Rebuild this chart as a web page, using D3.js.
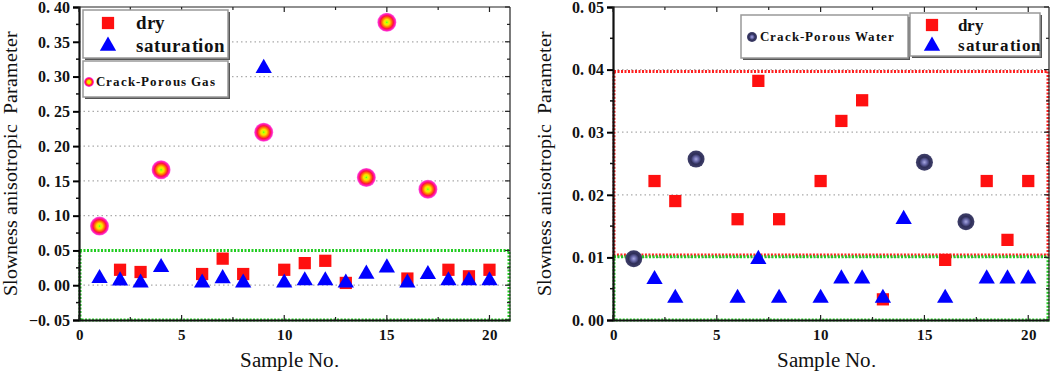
<!DOCTYPE html>
<html>
<head>
<meta charset="utf-8">
<script src="https://cdn.jsdelivr.net/npm/d3@7"></script>
<style>
@font-face { font-family: 'ChartSerif'; font-weight: normal; src: local('Liberation Serif'), local('LiberationSerif'); }
@font-face { font-family: 'ChartSerif'; font-weight: bold; src: local('Liberation Serif Bold'), local('LiberationSerif-Bold'); }
body { margin: 0; background: #fff; }
</style>
</head>
<body>
<script>
// dry samples (same in both panels)
var drySamples = [2, 3, 6, 7, 8, 10, 11, 12, 13, 16, 18, 19, 20];
var dryValues  = [0.0222, 0.019, 0.0161, 0.0382, 0.0161, 0.0222, 0.0318, 0.0351, 0.0033, 0.0096, 0.0222, 0.0128, 0.0222];

// saturation, left panel
var satLeftSamples = [1, 2, 3, 4, 6, 7, 8, 9, 10, 11, 12, 13, 14, 15, 16, 17, 18, 19, 20];
var satLeftValues  = [0.0098, 0.0065, 0.0035, 0.0257, 0.0035, 0.0097, 0.0035, 0.312, 0.0035, 0.0066, 0.0066, 0.0035, 0.0161, 0.0252, 0.0035, 0.0157, 0.0066, 0.0066, 0.0066];

// saturation, right panel
var satRightSamples = [2, 3, 6, 7, 8, 10, 11, 12, 13, 14, 16, 18, 19, 20];
var satRightValues  = [0.0065, 0.0035, 0.0035, 0.0097, 0.0035, 0.0035, 0.0066, 0.0066, 0.0035, 0.0161, 0.0035, 0.0066, 0.0066, 0.0066];

// crack-porous gas / water
var gasSamples = [1, 4, 9, 14, 15, 17];
var gasValues  = [0.085, 0.166, 0.22, 0.155, 0.378, 0.138];
var waterSamples = [1, 4, 15, 17];
var waterValues  = [0.0098, 0.0257, 0.0252, 0.0157];

var xTicks = [0, 5, 10, 15, 20];
var leftYTicks = [-0.05, 0, 0.05, 0.10, 0.15, 0.20, 0.25, 0.30, 0.35, 0.40];
var rightYTicks = [0, 0.01, 0.02, 0.03, 0.04, 0.05];

var yTitle = "Slowness anisotropic\u00a0 Parameter";
var xTitle = "Sample No.";

var FONT = "'ChartSerif', 'Liberation Serif'";

var svg = d3.select("body").append("svg")
  .attr("width", 1052).attr("height", 374)
  .style("font-family", FONT);

var defs = svg.append("defs");
var gg = defs.append("radialGradient").attr("id", "gasGrad");
[[0, "#33ff33"], [0.12, "#ccff00"], [0.3, "#ffe000"], [0.5, "#ff7a00"], [0.68, "#ff1040"], [0.88, "#ff20c0"], [1, "#ff70e0"]]
  .forEach(function(s) { gg.append("stop").attr("offset", s[0]).attr("stop-color", s[1]); });
var wg = defs.append("radialGradient").attr("id", "waterGrad");
[[0, "#a8a8e0"], [0.3, "#6868a8"], [0.6, "#2e2e58"], [1, "#40406a"]]
  .forEach(function(s) { wg.append("stop").attr("offset", s[0]).attr("stop-color", s[1]); });

function fmt(v) {
  var s = d3.format(".2f")(Math.abs(v)).replace(".", ".\u00a0");
  return (v < 0 ? "\u2212" : "") + s;
}

function txt(g, x, y, size, bold, str) {
  return g.append("text").attr("x", x).attr("y", y).attr("font-size", size)
    .attr("font-weight", bold ? "bold" : "normal").attr("fill", "#111")
    .style("font-family", FONT).text(str);
}

function panel(opt) {
  var x = d3.scaleLinear().domain([0, 21]).range([opt.left, opt.right]);
  var y = d3.scaleLinear().domain(opt.yDomain).range([opt.bottom, opt.top]);
  var g = svg.append("g");

  // grid
  g.selectAll(".grid").data(opt.grid).enter().append("line")
    .attr("x1", opt.left).attr("x2", opt.right)
    .attr("y1", function(d) { return y(d); }).attr("y2", function(d) { return y(d); })
    .attr("stroke", "#aaa").attr("stroke-width", 1.2).attr("stroke-dasharray", "1.5,3");

  // highlight boxes
  opt.boxes.forEach(function(b) {
    g.append("rect")
      .attr("x", x(0) + 1).attr("y", y(b.hi))
      .attr("width", x(21) - x(0) - 2).attr("height", y(b.lo) - y(b.hi))
      .attr("fill", "none").attr("stroke", b.color).attr("stroke-width", 3)
      .attr("stroke-dasharray", "2,1.5");
  });

  // frame
  g.append("line").attr("x1", opt.left).attr("x2", opt.right).attr("y1", opt.top).attr("y2", opt.top)
    .attr("stroke", "#222").attr("stroke-width", 1.2);
  g.append("line").attr("x1", opt.right).attr("x2", opt.right).attr("y1", opt.top).attr("y2", opt.bottom)
    .attr("stroke", "#222").attr("stroke-width", 1.2);

  // axes
  var xa = g.append("g").attr("transform", "translate(0," + opt.bottom + ")")
    .call(d3.axisBottom(x).tickValues(xTicks).tickSize(0).tickPadding(9).tickFormat(d3.format("d")));
  xa.attr("font-family", null).attr("font-size", 15).attr("font-weight", "bold");
  xa.select(".domain").attr("stroke", "#111").attr("stroke-width", 2.2);
  xa.selectAll("text").attr("fill", "#111").style("font-family", FONT);
  var ya = g.append("g").attr("transform", "translate(" + opt.left + ",0)")
    .call(d3.axisLeft(y).tickValues(opt.yTicks).tickSize(6).tickPadding(3).tickFormat(fmt));
  ya.attr("font-family", null).attr("font-size", 15.5).attr("font-weight", "bold");
  ya.select(".domain").attr("stroke", "#111").attr("stroke-width", 2.2);
  ya.selectAll("line").attr("stroke-width", 2);
  ya.selectAll("text").attr("fill", "#111").attr("dy", "0.34em").style("font-family", FONT);

  // minor / inner ticks
  var xt = d3.range(0, 21, 2.5);
  g.selectAll(".tt").data(xt).enter().append("line")
    .attr("x1", function(d) { return x(d); }).attr("x2", function(d) { return x(d); })
    .attr("y1", opt.top).attr("y2", function(d) { return opt.top + (d % 5 === 0 ? 5 : 3); })
    .attr("stroke", "#222").attr("stroke-width", 1.2);
  g.selectAll(".bt").data(xt).enter().append("line")
    .attr("x1", function(d) { return x(d); }).attr("x2", function(d) { return x(d); })
    .attr("y1", opt.bottom).attr("y2", function(d) { return opt.bottom - (d % 5 === 0 ? 5 : 3); })
    .attr("stroke", "#222").attr("stroke-width", 1.2);
  var step = opt.yTicks[1] - opt.yTicks[0];
  var yt = d3.range(opt.yDomain[0], opt.yDomain[1] + step / 4, step / 2);
  g.selectAll(".rt").data(yt).enter().append("line")
    .attr("x1", opt.right).attr("x2", function(d, i) { return opt.right - (i % 2 === 0 ? 5 : 3); })
    .attr("y1", function(d) { return y(d); }).attr("y2", function(d) { return y(d); })
    .attr("stroke", "#222").attr("stroke-width", 1.2);
  g.selectAll(".lt").data(yt.filter(function(d, i) { return i % 2 === 1; })).enter().append("line")
    .attr("x1", opt.left).attr("x2", opt.left - 3)
    .attr("y1", function(d) { return y(d); }).attr("y2", function(d) { return y(d); })
    .attr("stroke", "#111").attr("stroke-width", 1.5);

  // titles
  txt(g, 0, 0, 20, false, yTitle)
    .attr("transform", "translate(" + opt.yTitleX + "," + ((opt.top + opt.bottom) / 2) + ") rotate(-90)")
    .attr("text-anchor", "middle");
  txt(g, (opt.left + opt.right) / 2 - 5, 367, 21, false, xTitle).attr("text-anchor", "middle");

  // markers
  var sq = d3.symbol().type(d3.symbolSquare).size(150);
  var tri = d3.symbol().type(d3.symbolTriangle).size(115);
  g.selectAll(".dry").data(d3.zip(drySamples, dryValues)).enter().append("path")
    .attr("d", sq).attr("fill", "#ff1010")
    .attr("transform", function(d) { return "translate(" + x(d[0]) + "," + y(d[1]) + ")"; });
  g.selectAll(".sat").data(opt.sat).enter().append("path")
    .attr("d", tri).attr("fill", "#0000ff")
    .attr("transform", function(d) { return "translate(" + x(d[0]) + "," + y(d[1]) + ")"; });
  g.selectAll(".circ").data(opt.circ).enter().append("circle")
    .attr("cx", function(d) { return x(d[0]); }).attr("cy", function(d) { return y(d[1]); })
    .attr("r", opt.circR).attr("fill", "url(#" + opt.circGrad + ")");
  return { g: g, sq: sq, tri: tri };
}

function legendBox(g, x0, y0, w, h) {
  g.append("rect").attr("x", x0 + 2).attr("y", y0 + 2).attr("width", w).attr("height", h)
    .attr("fill", "#555");
  g.append("rect").attr("x", x0).attr("y", y0).attr("width", w).attr("height", h)
    .attr("fill", "#fff").attr("stroke", "#999").attr("stroke-width", 1.5);
}

// left panel
var L = panel({
  left: 79, right: 510, top: 7, bottom: 320,
  yDomain: [-0.05, 0.40], yTicks: leftYTicks,
  grid: [0, 0.10, 0.15, 0.20, 0.25, 0.30, 0.35],
  boxes: [{ lo: -0.05, hi: 0.05, color: "#22cc22" }],
  sat: d3.zip(satLeftSamples, satLeftValues),
  circ: d3.zip(gasSamples, gasValues), circR: 9.5, circGrad: "gasGrad",
  yTitleX: 17
});
legendBox(L.g, 83, 10, 145, 48);
L.g.append("path").attr("d", L.sq).attr("fill", "#ff1010").attr("transform", "translate(108,23)");
L.g.append("path").attr("d", L.tri).attr("fill", "#0000ff").attr("transform", "translate(108,46)");
txt(L.g, 136, 29, 19, true, "dry");
txt(L.g, 136, 52, 19, true, "saturation").attr("letter-spacing", 0.6);
legendBox(L.g, 83, 61, 145, 36);
L.g.append("circle").attr("cx", 89).attr("cy", 82).attr("r", 5).attr("fill", "url(#gasGrad)");
txt(L.g, 96, 86, 13, true, "Crack-Porous Gas").attr("letter-spacing", 1);

// right panel
var R = panel({
  left: 613, right: 1049, top: 7, bottom: 320,
  yDomain: [0, 0.05], yTicks: rightYTicks,
  grid: [0.01, 0.02, 0.03, 0.04],
  boxes: [{ lo: 0.0104, hi: 0.0397, color: "#ff2020" }, { lo: 0, hi: 0.0101, color: "#22cc22" }],
  sat: d3.zip(satRightSamples, satRightValues),
  circ: d3.zip(waterSamples, waterValues), circR: 8.5, circGrad: "waterGrad",
  yTitleX: 551
});
legendBox(R.g, 741, 15, 167, 43);
R.g.append("circle").attr("cx", 752).attr("cy", 37).attr("r", 5).attr("fill", "url(#waterGrad)");
txt(R.g, 760, 41, 13, true, "Crack-Porous Water").attr("letter-spacing", 1);
legendBox(R.g, 910, 13, 130, 43);
R.g.append("path").attr("d", R.sq).attr("fill", "#ff1010").attr("transform", "translate(932,25)");
R.g.append("path").attr("d", R.tri).attr("fill", "#0000ff").attr("transform", "translate(932,46)");
txt(R.g, 958, 31, 17, true, "dry");
txt(R.g, 958, 51, 17, true, "saturation").attr("letter-spacing", 0.6);
</script>
</body>
</html>
